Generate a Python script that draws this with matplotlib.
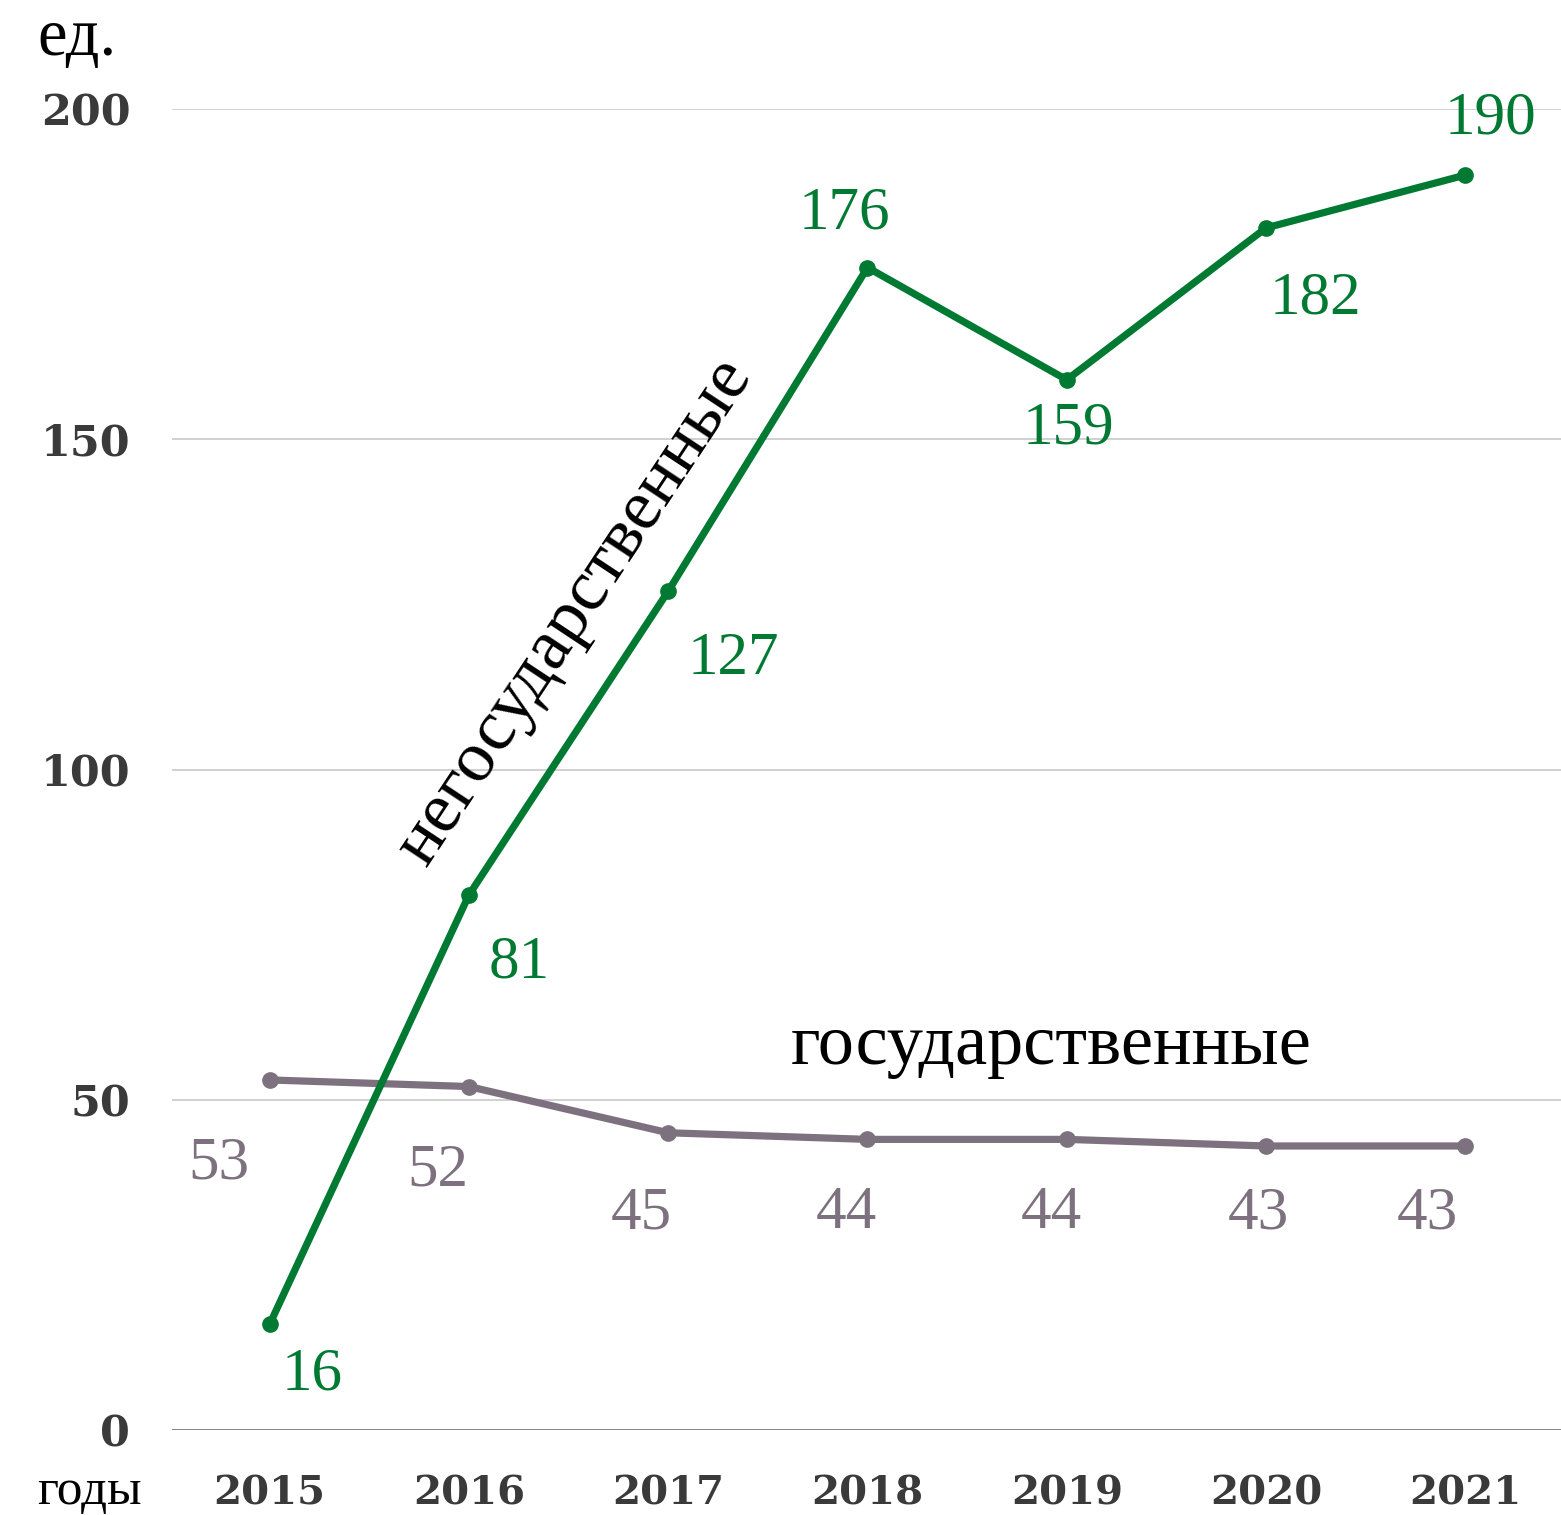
import matplotlib.pyplot as plt
import numpy as np

years = ['2015', '2016', '2017', '2018', '2019', '2020', '2021']
negos = [16, 81, 127, 176, 159, 182, 190]
gos = [53, 52, 45, 44, 44, 43, 43]
yticks = [0, 50, 100, 150, 200]

# label offsets in pixels relative to the point
negos_off = [(43, -50), (50, -68), (65, -68), (-23, 54), (2, -49), (49, -71), (25, 56)]
gos_off = [(-51, -84), (-31, -84), (-27, -81), (-21, -74), (-15, -74), (-8, -68), (-38, -68)]

green = '#007a33'
grey = '#7d717f'
tick_col = '#3a3a3a'
serif = ['Liberation Serif', 'DejaVu Serif']

fig = plt.figure(figsize=(15.61, 15.15), dpi=100)
ax = fig.add_axes([172 / 1561, 85 / 1515, 1 - 172 / 1561, (1430 - 109) / 1515])

x = np.arange(len(years))
ax.plot(x, gos, color=grey, lw=5.2, marker='o', ms=11, zorder=3)
ax.plot(x, negos, color=green, lw=5.2, marker='o', ms=11, zorder=4)

for xi, v, off in zip(x, negos, negos_off):
    ax.annotate(str(v), (xi, v), xytext=off, textcoords='offset pixels',
                ha='center', va='center', color=green, fontsize=44,
                family=serif)
for xi, v, off in zip(x, gos, gos_off):
    ax.annotate(str(v), (xi, v), xytext=off, textcoords='offset pixels',
                ha='center', va='center', color=grey, fontsize=44,
                family=serif)

ax.set_xlim(-0.49, 6.48)
ax.set_ylim(0, 200)
ax.set_yticks(yticks)
ax.set_xticks(x)
ax.set_xticklabels(years)
for lab in ax.get_xticklabels():
    lab.set_fontsize(29)
for lab in ax.get_yticklabels():
    lab.set_fontsize(31)
for lab in ax.get_xticklabels() + ax.get_yticklabels():
    lab.set_family('DejaVu Serif')
    lab.set_fontweight('bold')
    lab.set_color(tick_col)
ax.tick_params(axis='y', length=0, pad=30)
ax.tick_params(axis='x', length=0, pad=32)

for t in yticks[1:]:
    ax.axhline(t, color='#c8c8c8', lw=1.2, zorder=1)
ax.axhline(0, color='#7a7a7a', lw=2.0, zorder=1)
for s in ax.spines.values():
    s.set_visible(False)

# series names
ax.text(3.92, 58, 'государственные', ha='center', va='center', fontsize=52,
        family=serif, color='black')
ax.text(1.53, 124, 'негосударственные', ha='center', va='center', fontsize=52,
        family=serif, color='black', rotation=56.5, rotation_mode='anchor')

fig.text(37 / 1561, 1 - 38 / 1515, 'ед.', ha='left', va='center', fontsize=48,
         family=serif, color='black')
fig.text(37 / 1561, 1 - 1492 / 1515, 'годы', ha='left', va='center', fontsize=37,
         family=serif, color='black')

fig.savefig('out.png', dpi=100)
